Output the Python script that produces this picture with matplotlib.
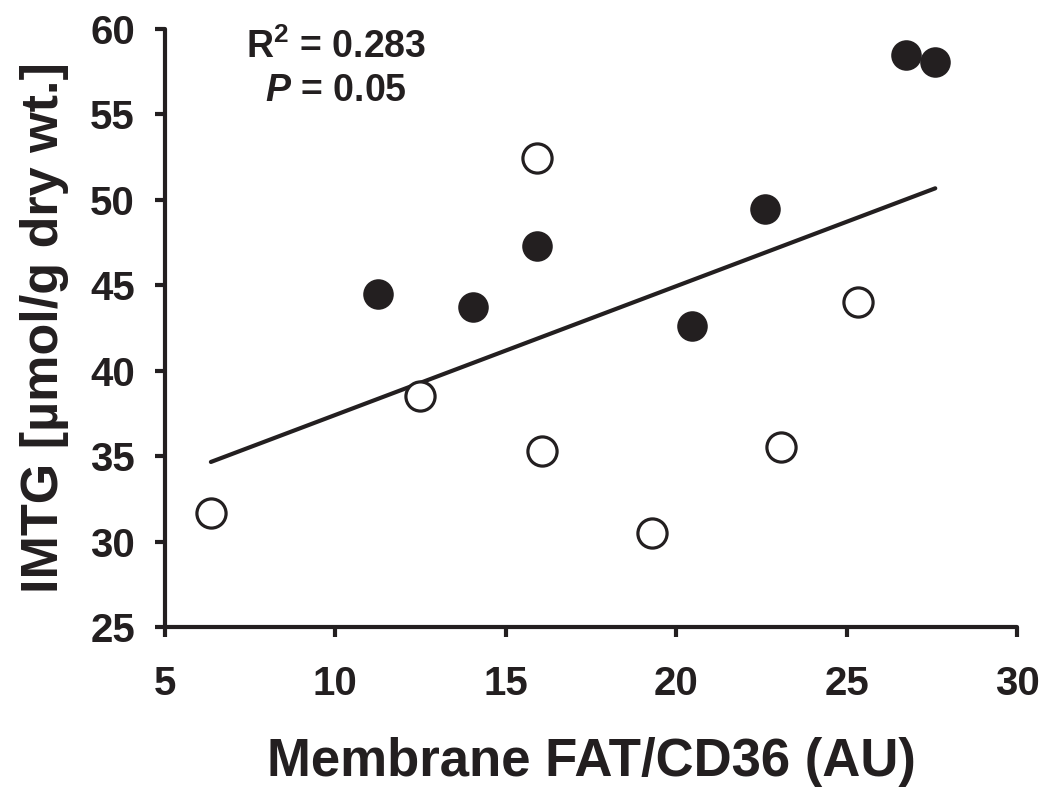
import numpy as np
import matplotlib
matplotlib.use("Agg")
import matplotlib.pyplot as plt

plt.rcParams['font.family'] = ['Liberation Sans', 'DejaVu Sans']
plt.rcParams['font.weight'] = 'bold'
plt.rcParams['mathtext.fontset'] = 'custom'
plt.rcParams['mathtext.rm'] = 'Liberation Sans:bold'
plt.rcParams['mathtext.it'] = 'Liberation Sans:italic:bold'
plt.rcParams['mathtext.bf'] = 'Liberation Sans:bold'

# open circles
open_x = [6.35, 12.47, 15.91, 16.06, 19.29, 23.06, 25.32]
open_y = [31.7, 38.5, 52.44, 35.28, 30.53, 35.51, 44.0]
# filled circles
filled_x = [11.24, 14.03, 15.91, 20.47, 22.59, 26.74, 27.59]
filled_y = [44.48, 43.71, 47.29, 42.6, 49.46, 58.48, 58.07]

xticks = [5, 10, 15, 20, 25, 30]
yticks = [25, 30, 35, 40, 45, 50, 55, 60]

ink = '#231f20'

fig = plt.figure(figsize=(10.5, 8.06), dpi=100)
ax = fig.add_axes([0.157, 0.222, 0.812, 0.742])

# regression over all points
all_x = np.array(open_x + filled_x)
all_y = np.array(open_y + filled_y)
slope, icpt = np.polyfit(all_x, all_y, 1)
lx = np.array([all_x.min(), all_x.max()])
ax.plot(lx, slope * lx + icpt, color=ink, lw=3.0, solid_capstyle='round', zorder=2)

ax.plot(open_x, open_y, 'o', ms=21, mfc='white', mec=ink, mew=2.3, zorder=3, clip_on=False)
ax.plot(filled_x, filled_y, 'o', ms=22, mfc=ink, mec=ink, mew=0, zorder=3, clip_on=False)

ax.set_xlim(5, 30)
ax.set_ylim(25, 60)
ax.set_xticks(xticks)
ax.set_yticks(yticks)

for s in ['top', 'right']:
    ax.spines[s].set_visible(False)
for s in ['left', 'bottom']:
    ax.spines[s].set_linewidth(3)
    ax.spines[s].set_color(ink)
    ax.spines[s].set_capstyle('round')

ax.tick_params(axis='both', direction='out', length=7.5, width=3, color=ink,
               labelsize=29, labelcolor=ink)
ax.tick_params(axis='x', pad=20)
ax.tick_params(axis='y', pad=14)
for lab in ax.get_xticklabels() + ax.get_yticklabels():
    lab.set_fontweight('bold')

ax.set_xlabel('Membrane FAT/CD36 (AU)', fontsize=38, fontweight='bold', color=ink)
ax.set_ylabel('IMTG [µmol/g dry wt.]', fontsize=37.5, fontweight='bold', color=ink)
ax.xaxis.set_label_coords(0.5, -0.183)
ax.yaxis.set_label_coords(-0.113, 0.5)

ax.text(0.201, 0.969, r'R$^{\mathrm{2}}$ = 0.283', transform=ax.transAxes,
        ha='center', va='center', fontsize=27, fontweight='bold', color=ink)
ax.text(0.201, 0.897, r'$\mathit{P}$ = 0.05', transform=ax.transAxes,
        ha='center', va='center', fontsize=27, fontweight='bold', color=ink)

fig.savefig('out.png', dpi=100)
